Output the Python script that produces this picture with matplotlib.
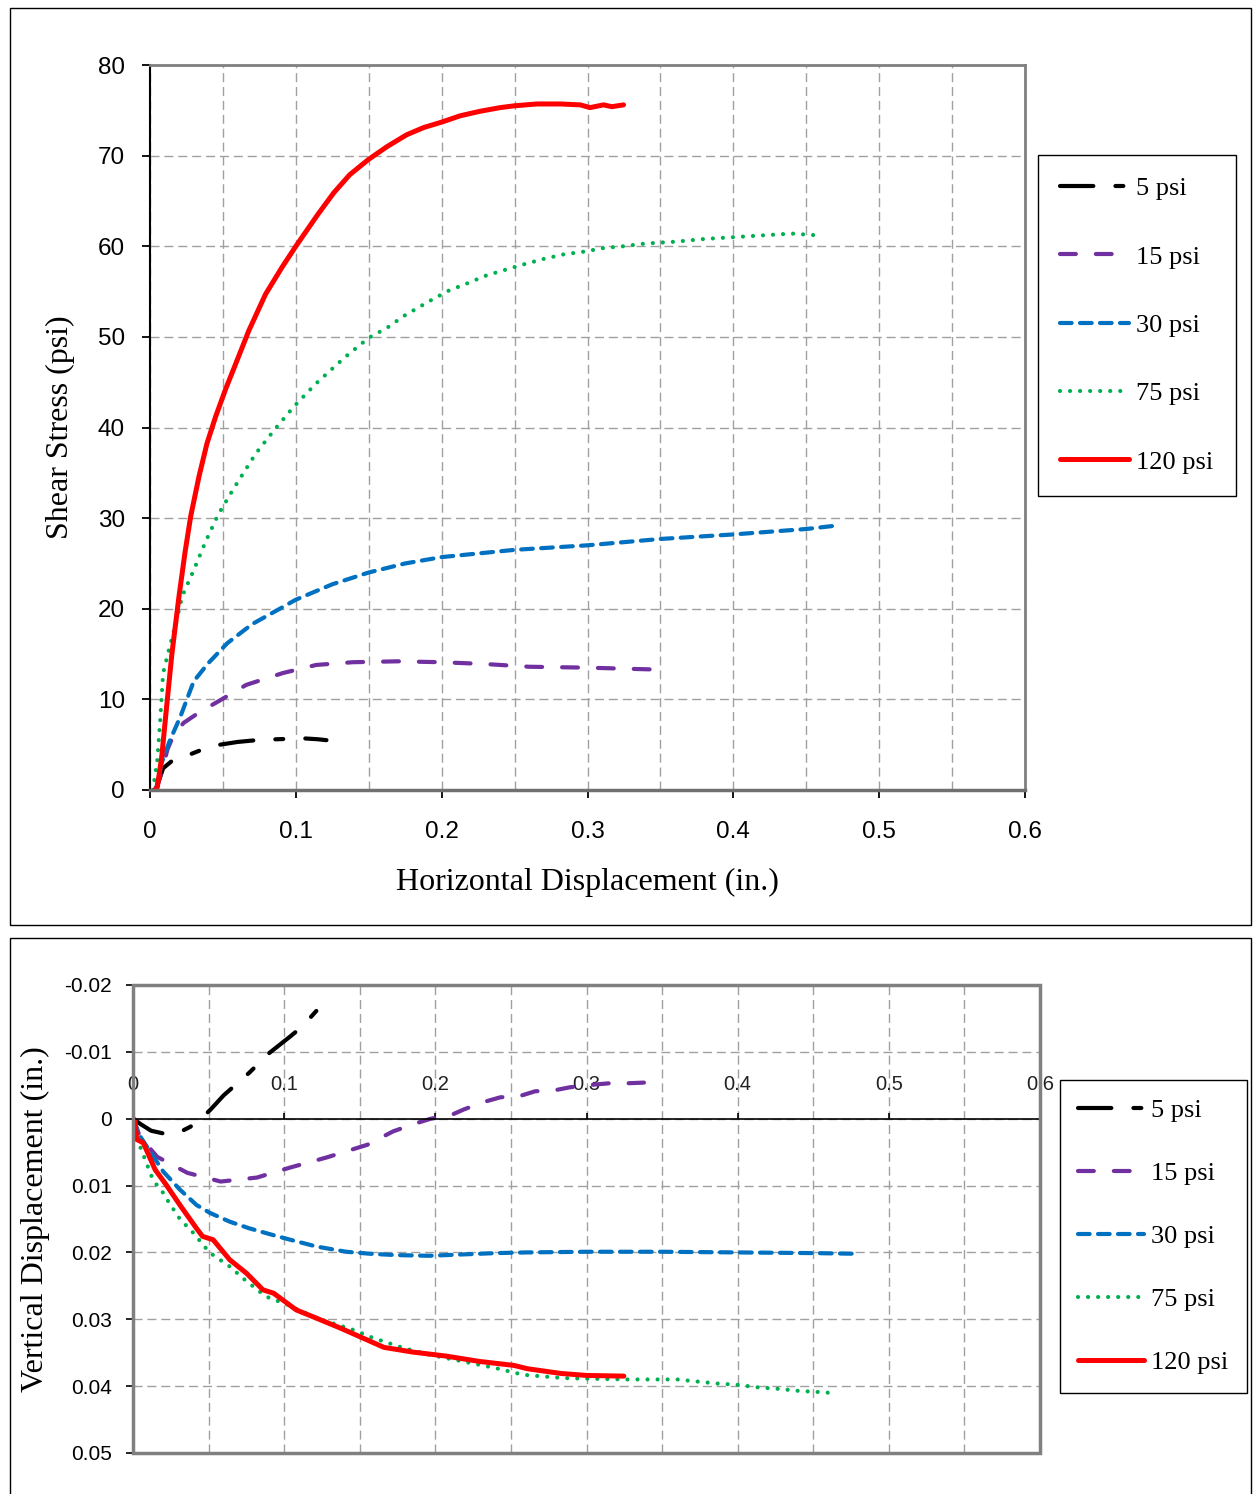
import matplotlib
matplotlib.use("Agg")
import matplotlib.pyplot as plt
from matplotlib.patches import Rectangle

W, H = 1253, 1494

# ---- data: shear stress vs horizontal displacement ----
h5_x = [0.004, 0.009, 0.015, 0.027, 0.038, 0.048, 0.06, 0.073, 0.087, 0.105, 0.115, 0.121]
h5_y = [0, 2.4, 3.2, 3.9, 4.6, 5.0, 5.3, 5.5, 5.6, 5.7, 5.6, 5.5]

h15_x = [0.004, 0.008, 0.012, 0.016, 0.023, 0.035, 0.046, 0.066, 0.091, 0.114, 0.139,
         0.17, 0.2, 0.23, 0.26, 0.3, 0.345]
h15_y = [0, 2.0, 4.5, 6.0, 7.4, 8.7, 9.7, 11.6, 12.9, 13.8, 14.1,
         14.2, 14.1, 13.9, 13.6, 13.5, 13.3]

h30_x = [0.004, 0.008, 0.0137, 0.0206, 0.03, 0.04, 0.053, 0.07, 0.089, 0.1, 0.125,
         0.15, 0.175, 0.2, 0.25, 0.3, 0.35, 0.4, 0.45, 0.472]
h30_y = [0, 3, 5.5, 8, 12, 14, 16.2, 18.3, 20.0, 21.0, 22.7,
         24.0, 25.0, 25.7, 26.5, 27.0, 27.7, 28.2, 28.8, 29.2]

h75_x = [0.002, 0.005, 0.007, 0.009, 0.013, 0.0176, 0.0221, 0.0301, 0.0381, 0.0468,
         0.0575, 0.0724, 0.0856, 0.0986, 0.1135, 0.1237, 0.134, 0.15, 0.1626, 0.174,
         0.1922, 0.2048, 0.2174, 0.231, 0.2436, 0.2562, 0.2699, 0.2836, 0.2973, 0.311,
         0.3247, 0.3395, 0.36, 0.38, 0.4, 0.42, 0.44, 0.458]
h75_y = [0, 3.3, 7.7, 12.9, 15.5, 18.3, 21.4, 24.3, 27.4, 30.4,
         33.3, 37.1, 39.8, 42.3, 44.8, 46.3, 47.8, 49.9, 51.0, 52.3,
         54.0, 55.1, 55.9, 56.8, 57.4, 58.0, 58.6, 59.1, 59.4, 59.8,
         60.0, 60.3, 60.5, 60.8, 61.0, 61.2, 61.4, 61.2]

h120_x = [0.003, 0.005, 0.008, 0.0114, 0.015, 0.0199, 0.024, 0.0279, 0.0336, 0.039,
          0.045, 0.052, 0.0587, 0.0678, 0.0792, 0.0906, 0.1, 0.1146, 0.126, 0.137,
          0.15, 0.1626, 0.176, 0.1877, 0.2, 0.2128, 0.2265, 0.2402, 0.25, 0.2653,
          0.2813, 0.295, 0.3018, 0.311, 0.3167, 0.3247]
h120_y = [0, 0.3, 3.6, 9.2, 15.0, 21.4, 26.2, 30.2, 34.6, 38.2,
          41.2, 44.3, 47.0, 50.7, 54.7, 57.7, 60.0, 63.4, 65.9, 67.9,
          69.6, 71.0, 72.3, 73.1, 73.7, 74.4, 74.9, 75.3, 75.5, 75.7,
          75.7, 75.6, 75.3, 75.6, 75.4, 75.6]

# ---- data: vertical vs horizontal displacement ----
v5_x = [0, 0.005, 0.012, 0.02, 0.03, 0.038, 0.045, 0.051, 0.06, 0.07, 0.077, 0.09,
        0.104, 0.112, 0.122]
v5_y = [0, 0.0008, 0.0018, 0.0022, 0.0021, 0.0012, 0.0, -0.0013, -0.0035, -0.0055,
        -0.0069, -0.0098, -0.0123, -0.0138, -0.0163]

v15_x = [0, 0.0046, 0.016, 0.036, 0.058, 0.082, 0.104, 0.128, 0.155, 0.172, 0.187,
         0.197, 0.21, 0.219, 0.232, 0.243, 0.256, 0.266, 0.28, 0.289, 0.305, 0.315,
         0.327, 0.338]
v15_y = [0, 0.0027, 0.0057, 0.0081, 0.0094, 0.0088, 0.0073, 0.0058, 0.0039, 0.0019,
         0.0007, 0.0, -0.0005, -0.0014, -0.0025, -0.0032, -0.0034, -0.0041, -0.0043,
         -0.0047, -0.0051, -0.0053, -0.0053, -0.0054]

v30_x = [0, 0.0046, 0.02, 0.031, 0.042, 0.051, 0.064, 0.077, 0.091, 0.104, 0.121,
         0.141, 0.157, 0.174, 0.196, 0.218, 0.24, 0.26, 0.3, 0.35, 0.4, 0.45, 0.479]
v30_y = [0, 0.0026, 0.0079, 0.0106, 0.0129, 0.0141, 0.0154, 0.0164, 0.0173, 0.0181,
         0.0191, 0.0199, 0.0202, 0.0204, 0.0205, 0.0203, 0.0201, 0.02, 0.0199,
         0.0199, 0.02, 0.0201, 0.0202]

v75_x = [0, 0.0013, 0.0046, 0.008, 0.0123, 0.0157, 0.02, 0.0234, 0.031, 0.04, 0.048,
         0.053, 0.064, 0.074, 0.088, 0.102, 0.121, 0.146, 0.159, 0.179, 0.196, 0.218,
         0.24, 0.258, 0.285, 0.305, 0.327, 0.347, 0.36, 0.373, 0.386, 0.4, 0.414,
         0.427, 0.44, 0.455, 0.461]
v75_y = [0, 0.0006, 0.0041, 0.0061, 0.0086, 0.0099, 0.0111, 0.0124, 0.015, 0.0171,
         0.0193, 0.0204, 0.0221, 0.0241, 0.0266, 0.0278, 0.0298, 0.0316, 0.0328,
         0.0343, 0.0353, 0.0363, 0.0373, 0.0383, 0.0388, 0.0389, 0.039, 0.039,
         0.039, 0.0393, 0.0396, 0.0398, 0.0402, 0.0404, 0.0407, 0.0409, 0.041]

v120_x = [0, 0.0013, 0.0024, 0.0068, 0.0146, 0.022, 0.031, 0.042, 0.046, 0.053, 0.064,
          0.075, 0.086, 0.093, 0.108, 0.121, 0.137, 0.152, 0.166, 0.185, 0.207, 0.229,
          0.252, 0.261, 0.283, 0.3, 0.3247]
v120_y = [0, 0.0002, 0.0031, 0.0036, 0.0076, 0.0099, 0.0129, 0.0164, 0.0176, 0.0181,
          0.0211, 0.0231, 0.0256, 0.0261, 0.0286, 0.0298, 0.0313, 0.0328, 0.0342,
          0.0349, 0.0355, 0.0363, 0.0369, 0.0374, 0.0381, 0.0384, 0.0385]

labels = ["5 psi", "15 psi", "30 psi", "75 psi", "120 psi"]
colors = ["#000000", "#7030A0", "#0070C0", "#00B050", "#FF0000"]
dash_styles = [(8, 5.3, 1.9, 5.3), (3.8, 4.8), (2.8, 2.0), (0.01, 2.4), None]

x_ticks = [0, 0.1, 0.2, 0.3, 0.4, 0.5, 0.6]
x_ticklabels = ["0", "0.1", "0.2", "0.3", "0.4", "0.5", "0.6"]
top_yticks = [0, 10, 20, 30, 40, 50, 60, 70, 80]
bot_yticks = [-0.02, -0.01, 0, 0.01, 0.02, 0.03, 0.04, 0.05]
bot_yticklabels = ["-0.02", "-0.01", "0", "0.01", "0.02", "0.03", "0.04", "0.05"]

SANS = "Liberation Sans"
SERIF = "Liberation Serif"
GRID = dict(color="#A0A0A0", linestyle=(0, (6.5, 3.5)), linewidth=1.0)


def draw_series(ax, xs, ys):
    lines = []
    for x, y, lab, c, d in zip(xs, ys, labels, colors, dash_styles):
        if d is None:
            ln, = ax.plot(x, y, color=c, lw=3.6, label=lab, solid_capstyle="round",
                          solid_joinstyle="round")
        else:
            ln, = ax.plot(x, y, color=c, lw=3.0, label=lab, dashes=d,
                          dash_capstyle="round", dash_joinstyle="round")
        lines.append(ln)
    return lines


fig = plt.figure(figsize=(W / 100, H / 100), dpi=100)

# panel frames
fig.add_artist(Rectangle((10 / W, 1 - 925 / H), 1241 / W, 917 / H,
                         transform=fig.transFigure, fill=False, ec="black", lw=1))
fig.add_artist(Rectangle((10 / W, 1 - 1520 / H), 1241 / W, 582 / H,
                         transform=fig.transFigure, fill=False, ec="black", lw=1))

# ---------------- top chart ----------------
ax1 = fig.add_axes([150 / W, 1 - 790 / H, 875 / W, 725 / H])
draw_series(ax1, [h5_x, h15_x, h30_x, h75_x, h120_x],
            [h5_y, h15_y, h30_y, h75_y, h120_y])
ax1.set_xlim(0, 0.6)
ax1.set_ylim(0, 80)
ax1.set_xticks(x_ticks)
ax1.set_xticklabels(x_ticklabels)
ax1.set_xticks([0.05 * i for i in range(13)], minor=True)
ax1.set_yticks(top_yticks)
ax1.grid(True, which="both", axis="x", **GRID)
ax1.grid(True, which="major", axis="y", **GRID)
ax1.set_axisbelow(True)
ax1.tick_params(axis="x", which="minor", length=0)
ax1.tick_params(axis="both", which="major", direction="out", length=6, width=1.3,
                labelsize=17.5)
ax1.tick_params(axis="x", which="major", pad=16)
ax1.tick_params(axis="y", which="major", pad=12)
for t in ax1.get_xticklabels() + ax1.get_yticklabels():
    t.set_fontfamily(SANS)
for s in ["top", "right"]:
    ax1.spines[s].set_color("#808080")
    ax1.spines[s].set_linewidth(2)
ax1.spines["bottom"].set_color("#707070")
ax1.spines["bottom"].set_linewidth(2.5)
ax1.spines["left"].set_color("black")
ax1.spines["left"].set_linewidth(1.5)
ax1.set_xlabel("Horizontal Displacement (in.)", fontfamily=SERIF, fontsize=23)
ax1.set_ylabel("Shear Stress (psi)", fontfamily=SERIF, fontsize=23)
ax1.xaxis.set_label_coords(0.5, -0.108)
ax1.yaxis.set_label_coords(-0.086, 0.5)
leg1 = ax1.legend(loc="upper left", bbox_to_anchor=(1038 / W, 1 - 155 / H),
                  bbox_transform=fig.transFigure, borderaxespad=0,
                  prop={"family": SERIF, "size": 19}, handlelength=2.6,
                  handletextpad=0.3, labelspacing=1.7, borderpad=0.83,
                  fancybox=False, framealpha=1, edgecolor="black")
leg1.get_frame().set_linewidth(1)

# ---------------- bottom chart ----------------
ax2 = fig.add_axes([133 / W, 1 - 1453 / H, 907 / W, 468 / H])
draw_series(ax2, [v5_x, v15_x, v30_x, v75_x, v120_x],
            [v5_y, v15_y, v30_y, v75_y, v120_y])
ax2.set_xlim(0, 0.6)
ax2.set_ylim(0.05, -0.02)
ax2.set_xticks(x_ticks)
ax2.set_xticklabels(x_ticklabels)
ax2.set_xticks([0.05 * i for i in range(13)], minor=True)
ax2.set_yticks(bot_yticks)
ax2.set_yticklabels(bot_yticklabels)
ax2.grid(True, which="both", axis="x", **GRID)
ax2.grid(True, which="major", axis="y", **GRID)
ax2.set_axisbelow(True)
ax2.xaxis.tick_top()
ax2.spines["top"].set_position(("data", 0))
ax2.spines["top"].set_color("black")
ax2.spines["top"].set_linewidth(1.2)
for s in ["left", "right", "bottom"]:
    ax2.spines[s].set_visible(False)
ax2.add_patch(Rectangle((0, 0), 1, 1, transform=ax2.transAxes, fill=False,
                        ec="#808080", lw=2.5, clip_on=False, zorder=3))
ax2.tick_params(axis="x", which="minor", length=0)
ax2.tick_params(axis="x", which="major", direction="out", length=4, width=1.2,
                labelsize=14.5, pad=14, labelcolor="#222222")
ax2.tick_params(axis="y", which="major", direction="out", length=5, width=1.2,
                labelsize=15, pad=10)
for t in ax2.get_xticklabels() + ax2.get_yticklabels():
    t.set_fontfamily(SANS)
ax2.set_ylabel("Vertical Displacement (in.)", fontfamily=SERIF, fontsize=23)
ax2.yaxis.set_label_coords(-0.0915, 0.5)
leg2 = ax2.legend(loc="upper left", bbox_to_anchor=(1060 / W, 1 - 1080 / H),
                  bbox_transform=fig.transFigure, borderaxespad=0,
                  prop={"family": SERIF, "size": 19}, handlelength=2.5,
                  handletextpad=0.25, labelspacing=1.5, borderpad=0.7,
                  fancybox=False, framealpha=1, edgecolor="black")
leg2.get_frame().set_linewidth(1)

fig.savefig("out.png", dpi=100)
